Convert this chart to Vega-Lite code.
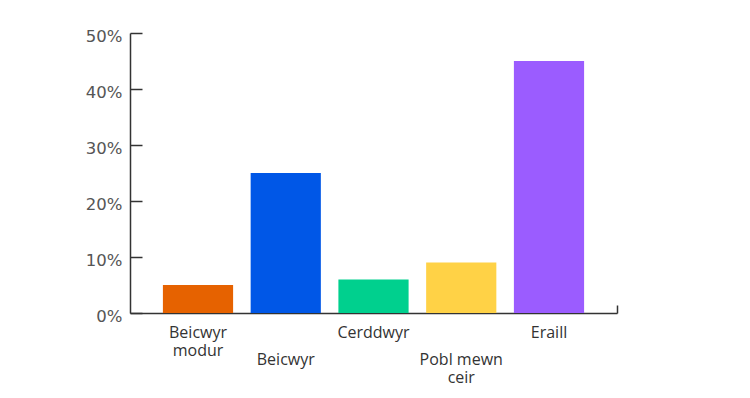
{
  "$schema": "https://vega.github.io/schema/vega-lite/v6.json",
  "width": 487,
  "height": 280,
  "autosize": {"type": "none"},
  "padding": {"left": 130, "top": 33, "right": 133, "bottom": 85},
  "background": "white",
  "config": {"view": {"stroke": null}},
  "layer": [
    {
      "data": {
        "values": [
          {"category": "Beicwyr modur", "value": 5},
          {"category": "Beicwyr", "value": 25},
          {"category": "Cerddwyr", "value": 6},
          {"category": "Pobl mewn ceir", "value": 9},
          {"category": "Eraill", "value": 45}
        ]
      },
      "mark": {"type": "bar"},
      "encoding": {
        "x": {
          "field": "category",
          "type": "nominal",
          "sort": null,
          "scale": {"paddingInner": 0.2, "paddingOuter": 0.375},
          "axis": {
            "orient": "bottom",
            "title": null,
            "ticks": false,
            "labelAngle": 0,
            "labelFont": "Open Sans",
            "labelFontSize": 16,
            "labelColor": "#333333",
            "labelBaseline": "alphabetic",
            "labelPadding": {
              "condition": {"test": "indexof(['Beicwyr', 'Pobl mewn ceir'], datum.value) >= 0", "value": 51},
              "value": 24
            },
            "labelLineHeight": 18,
            "labelExpr": "datum.label == 'Beicwyr modur' ? ['Beicwyr', 'modur'] : datum.label == 'Pobl mewn ceir' ? ['Pobl mewn', 'ceir'] : datum.label",
            "domainColor": "#333333",
            "domainWidth": 1.5
          }
        },
        "y": {
          "field": "value",
          "type": "quantitative",
          "scale": {"domain": [0, 50], "nice": false},
          "axis": {
            "title": null,
            "grid": false,
            "values": [0, 10, 20, 30, 40, 50],
            "labelExpr": "datum.value + '%'",
            "tickSize": -12,
            "tickColor": "#333333",
            "tickWidth": 1.5,
            "labelPadding": 20,
            "labelOffset": 3,
            "labelFont": "DejaVu Sans",
            "labelFontSize": 16.5,
            "labelColor": "#555555",
            "domainColor": "#333333",
            "domainWidth": 1.5
          }
        },
        "color": {
          "field": "category",
          "type": "nominal",
          "sort": null,
          "scale": {
            "domain": ["Beicwyr modur", "Beicwyr", "Cerddwyr", "Pobl mewn ceir", "Eraill"],
            "range": ["#E66200", "#0057E7", "#00D08E", "#FFD246", "#9B5CFF"]
          },
          "legend": null
        }
      }
    },
    {
      "data": {"values": [{"e": 1}]},
      "mark": {"type": "rule", "opacity": 0},
      "encoding": {
        "x": {
          "field": "e",
          "type": "quantitative",
          "scale": {"domain": [0, 1], "nice": false},
          "axis": {
            "orient": "bottom",
            "title": null,
            "values": [1],
            "labels": false,
            "domain": false,
            "ticks": true,
            "tickSize": -8,
            "tickColor": "#333333",
            "tickWidth": 1.5
          }
        }
      }
    }
  ],
  "resolve": {"scale": {"x": "independent", "color": "independent"}, "axis": {"x": "independent"}}
}
